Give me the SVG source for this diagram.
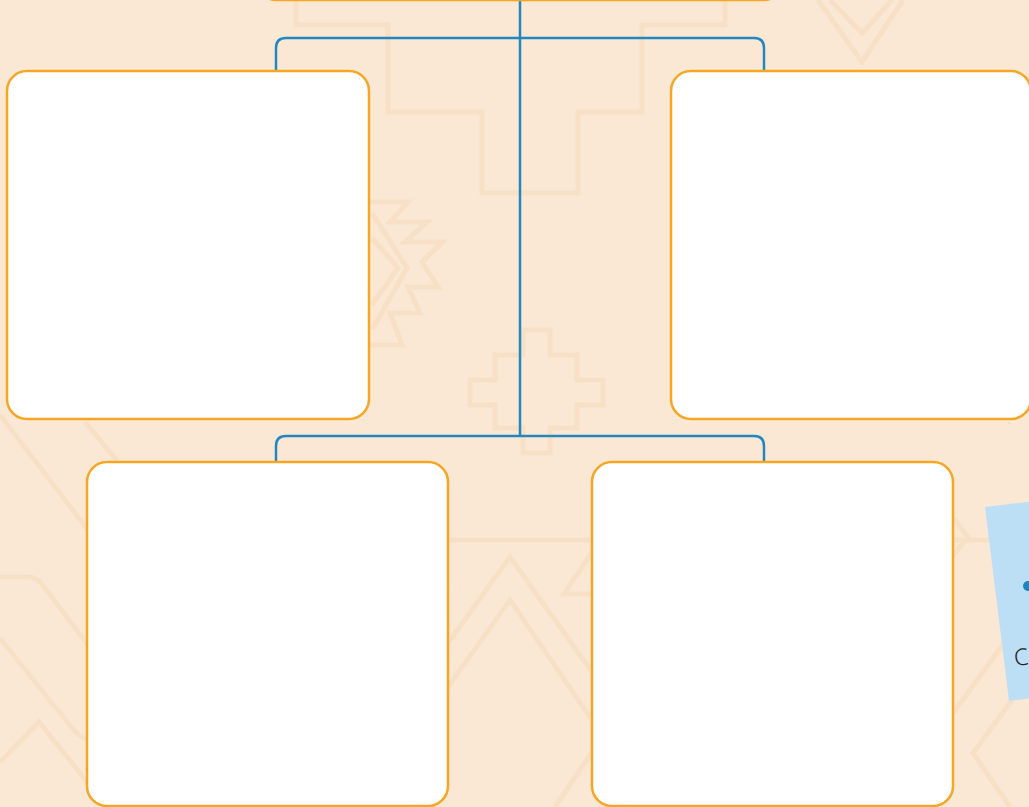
<svg xmlns="http://www.w3.org/2000/svg" width="1029" height="807" viewBox="0 0 1029 807">
  <style>
    .pat { fill: none; stroke: #f8e0c6; stroke-width: 5; stroke-linejoin: miter; }
    .box { fill: #ffffff; stroke: #f6a623; stroke-width: 2.5; }
    .conn { fill: none; stroke: #2287c1; stroke-width: 2.5; }
    .note-text { font-family: "Noto Sans", "Liberation Sans", sans-serif; font-size: 23px; font-weight: 300; fill: #222222; }
  </style>
  <rect x="0" y="0" width="1029" height="807" fill="#fae8d5"/>

  <g id="background-pattern">
    <path class="pat" d="M296,0 V25 H388 V112 H482 V193 H578 V112 H642 V25 H725 V0"/>
    <path class="pat" d="M523,330 H550 V355 H577 V380 H603 V405 H577 V428 H550 V453 H523 V428 H495 V405 H470 V380 H495 V355 H523 Z"/>
    <path class="pat" d="M370,202 H408 L390,222 H427 L405,242 H442 L422,262 L438,287 H408 L420,313 H390 L402,345 H369"/>
    <path class="pat" d="M372,213 L407,268 L372,330"/>
    <path class="pat" d="M372,238 L398,268 L372,305"/>
    <path class="pat" d="M818,0 L862,62 L903,0"/>
    <path class="pat" d="M830,0 L862,33 L892,0"/>
    <path class="pat" d="M0,415 L88,530"/>
    <path class="pat" d="M85,422 L118,462"/>
    <path class="pat" d="M0,577 H28 Q36,577 42,584 L88,645"/>
    <path class="pat" d="M0,638 L72,728 Q78,736 88,740"/>
    <path class="pat" d="M0,762 L39,722 L88,783"/>
    <path class="pat" d="M448,540 H592"/>
    <path class="pat" d="M953,540 H990"/>
    <path class="pat" d="M448,643 L510,557 L592,672"/>
    <path class="pat" d="M448,687 L510,600 L592,720"/>
    <path class="pat" d="M448,588 L440,578"/>
    <path class="pat" d="M592,552 L564,594 H592"/>
    <path class="pat" d="M592,752 L555,807"/>
    <path class="pat" d="M953,518 L968,537 L953,556"/>
    <path class="pat" d="M953,713 L1010,635"/>
    <path class="pat" d="M1012,700 L973,753 L1010,807"/>
  </g>

  <g id="connectors">
    <path class="conn" d="M520,0 V436"/>
    <path class="conn" d="M276,71 V48 Q276,38 286,38 H754 Q764,38 764,48 V71"/>
    <path class="conn" d="M276,462 V446 Q276,436 286,436 H754 Q764,436 764,446 V462"/>
  </g>

  <g id="node-top">
    <rect class="box" x="258" y="-100" width="524" height="100" rx="18"/>
  </g>
  <g id="node-top-left">
    <rect class="box" x="7" y="71" width="362" height="348" rx="20"/>
  </g>
  <g id="node-top-right">
    <rect class="box" x="671" y="71" width="360" height="348" rx="20"/>
  </g>
  <g id="node-bottom-left">
    <rect class="box" x="87" y="462" width="361" height="344" rx="20"/>
  </g>
  <g id="node-bottom-right">
    <rect class="box" x="592" y="462" width="361" height="344" rx="20"/>
  </g>

  <g id="sticky-note">
    <polygon points="985,507 1070,497 1094,690 1009,701" fill="#bddff5"/>
    <circle cx="1028" cy="586" r="5" fill="#1f84bf"/>
    <text class="note-text" x="1015" y="666" transform="rotate(-7 1015 666)">C</text>
  </g>
</svg>
